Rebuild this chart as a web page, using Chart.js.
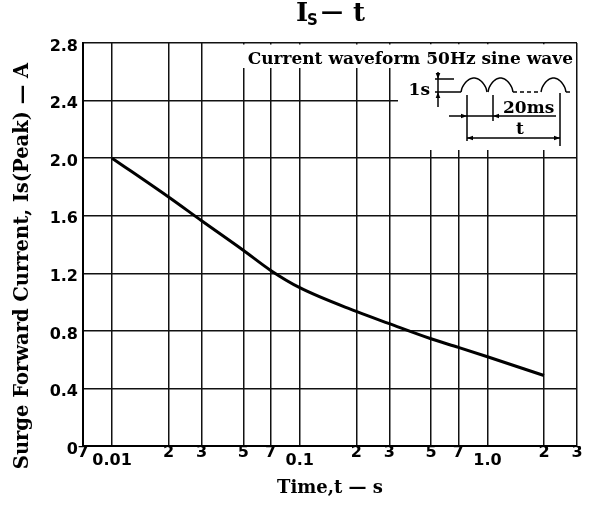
<!DOCTYPE html>
<html><head><meta charset="utf-8">
<script src="https://cdn.jsdelivr.net/npm/chart.js@4/dist/chart.umd.min.js"></script>
<style>html,body{margin:0;padding:0;background:#fff;}canvas{display:block;}</style>
</head><body>
<canvas id="c" width="593" height="507"></canvas>
<script>
// ---- data ----
const timeValues = [0.01, 0.02, 0.03, 0.05, 0.07, 0.1, 0.2, 0.3, 0.5, 0.7, 1.0, 2.0];
const currentValues = [2.0, 1.73, 1.565, 1.36, 1.22, 1.10, 0.935, 0.85, 0.745, 0.685, 0.62, 0.49];
const xTickValues = [0.007, 0.01, 0.02, 0.03, 0.05, 0.07, 0.1, 0.2, 0.3, 0.5, 0.7, 1.0, 2, 3];
const xTickLabels = ['7', '0.01', '2', '3', '5', '7', '0.1', '2', '3', '5', '7', '1.0', '2', '3'];
const xDecadeIdx = [1, 6, 11];
const yTickValues = [0, 0.4, 0.8, 1.2, 1.6, 2.0, 2.4, 2.8];
const yTickLabels = ['0', '0.4', '0.8', '1.2', '1.6', '2.0', '2.4', '2.8'];
const xTitle = 'Time,t — s';
const yTitle = 'Surge Forward Current, Is(Peak) — A';
const insetTitle = 'Current waveform 50Hz sine wave';

const SERIF = 'DejaVu Serif';
const SANS = 'DejaVu Sans';

function arrow(ctx, x, y, dir) {
  const L = 6, W = 2.3;
  ctx.beginPath();
  ctx.moveTo(x, y);
  if (dir === 'r') { ctx.lineTo(x - L, y - W); ctx.lineTo(x - L, y + W); }
  if (dir === 'l') { ctx.lineTo(x + L, y - W); ctx.lineTo(x + L, y + W); }
  if (dir === 'd') { ctx.lineTo(x - W, y - L); ctx.lineTo(x + W, y - L); }
  if (dir === 'u') { ctx.lineTo(x - W, y + L); ctx.lineTo(x + W, y + L); }
  ctx.closePath(); ctx.fill();
}
function line(ctx, x1, y1, x2, y2) {
  ctx.beginPath(); ctx.moveTo(x1, y1); ctx.lineTo(x2, y2); ctx.stroke();
}
function hump(ctx, x0, x1, base, h) {
  ctx.beginPath();
  for (let i = 0; i <= 30; i++) {
    const t = i / 30;
    const x = x0 + t * (x1 - x0);
    const y = base - h * Math.pow(Math.sin(Math.PI * t), 0.6);
    if (i === 0) ctx.moveTo(x, y); else ctx.lineTo(x, y);
  }
  ctx.stroke();
}

const annot = {
  id: 'annot',
  beforeDatasetsDraw(chart) {
    const ctx = chart.ctx, a = chart.chartArea;
    ctx.save();
    ctx.fillStyle = '#fff';
    ctx.fillRect(237, a.top + 1.5, a.right - 1 - 237, 68 - a.top - 1.5);
    ctx.fillRect(398, a.top + 1.5, a.right - 1 - 398, 150 - a.top - 1.5);
    ctx.restore();
  },
  afterDraw(chart) {
    const ctx = chart.ctx;
    ctx.save();
    ctx.fillStyle = '#000';
    ctx.strokeStyle = '#000';
    // chart title  I_S — t
    ctx.textBaseline = 'alphabetic';
    ctx.textAlign = 'left';
    ctx.font = 'bold 26px ' + SERIF;
    ctx.fillText('I', 296, 21);
    ctx.font = 'bold 15px ' + SANS;
    ctx.fillText('S', 307, 25);
    ctx.font = 'bold 22px ' + SERIF;
    ctx.fillText('—', 321, 19);
    ctx.font = 'bold 26px ' + SERIF;
    ctx.fillText('t', 353, 21);

    // y axis title
    ctx.save();
    ctx.translate(28, 266);
    ctx.rotate(-Math.PI / 2);
    ctx.textAlign = 'center';
    ctx.textBaseline = 'alphabetic';
    ctx.font = 'bold 19.5px ' + SERIF;
    ctx.fillText(yTitle, 0, 0);
    ctx.restore();

    // inset caption
    ctx.font = 'bold 17px ' + SERIF;
    ctx.textAlign = 'right';
    ctx.fillText(insetTitle, 573, 64);

    // waveform sketch
    ctx.lineWidth = 1.5;
    ctx.textAlign = 'right';
    ctx.font = 'bold 17px ' + SERIF;
    ctx.fillText('1s', 430, 95);
    line(ctx, 438, 72, 438, 107);
    arrow(ctx, 438, 79, 'd');
    arrow(ctx, 438, 92, 'u');
    line(ctx, 435, 79, 454, 79);
    line(ctx, 435, 92, 461, 92);
    hump(ctx, 461, 487, 92, 14);
    hump(ctx, 488, 513, 92, 14);
    ctx.setLineDash([4, 3]);
    line(ctx, 513, 92, 541, 92);
    ctx.setLineDash([]);
    hump(ctx, 541, 566, 92, 14);
    line(ctx, 566, 92, 570, 92);
    // 20ms dimension
    line(ctx, 467, 95, 467, 141);
    line(ctx, 493, 95, 493, 121);
    line(ctx, 449, 116, 556, 116);
    arrow(ctx, 467, 116, 'r');
    arrow(ctx, 493, 116, 'l');
    ctx.textAlign = 'left';
    ctx.fillText('20ms', 503, 113);
    // t dimension
    line(ctx, 560, 93, 560, 146);
    line(ctx, 467, 138, 560, 138);
    arrow(ctx, 467, 138, 'l');
    arrow(ctx, 560, 138, 'r');
    ctx.textAlign = 'center';
    ctx.fillText('t', 520, 134);
    ctx.restore();
  }
};

new Chart(document.getElementById('c'), {
  type: 'line',
  data: {
    datasets: [{
      data: timeValues.map((t, i) => ({ x: t, y: currentValues[i] })),
      borderColor: '#000',
      borderWidth: 3,
      pointRadius: 0,
      fill: false,
      cubicInterpolationMode: 'monotone'
    }]
  },
  options: {
    responsive: false,
    animation: false,
    devicePixelRatio: 1,
    layout: { padding: { top: 43, right: 16, left: 0, bottom: 0 } },
    plugins: { legend: { display: false }, tooltip: { enabled: false }, title: { display: false } },
    scales: {
      x: {
        type: 'logarithmic',
        min: 0.007, max: 3,
        afterBuildTicks: s => { s.ticks = xTickValues.map(v => ({ value: v })); },
        afterFit: s => { s.height = 61; },
        ticks: {
          autoSkip: false, maxRotation: 0, minRotation: 0, padding: 0, color: '#000',
          callback: (v, i) => xDecadeIdx.includes(i) ? ['', xTickLabels[i]] : xTickLabels[i],
          font: ctx => ({ family: SANS, weight: 'bold', size: 16,
            lineHeight: xDecadeIdx.includes(ctx.index) ? '10px' : '14px' })
        },
        grid: { color: '#111', lineWidth: 1.5, drawTicks: false },
        border: { color: '#000', width: 2 },
        title: { display: true, text: xTitle, color: '#000',
          font: { family: SERIF, weight: 'bold', size: 18 }, padding: { top: 0, bottom: 8 } }
      },
      y: {
        min: 0, max: 2.8,
        afterBuildTicks: s => { s.ticks = yTickValues.map(v => ({ value: v })); },
        afterFit: s => { s.width = 83; },
        ticks: {
          padding: 5, color: '#000',
          callback: (v, i) => ['', yTickLabels[i]],
          font: { family: SANS, weight: 'bold', size: 16, lineHeight: '7px' }
        },
        grid: { color: '#111', lineWidth: 1.5, drawTicks: false },
        border: { color: '#000', width: 2 }
      }
    }
  },
  plugins: [annot]
});
</script>
</body></html>
